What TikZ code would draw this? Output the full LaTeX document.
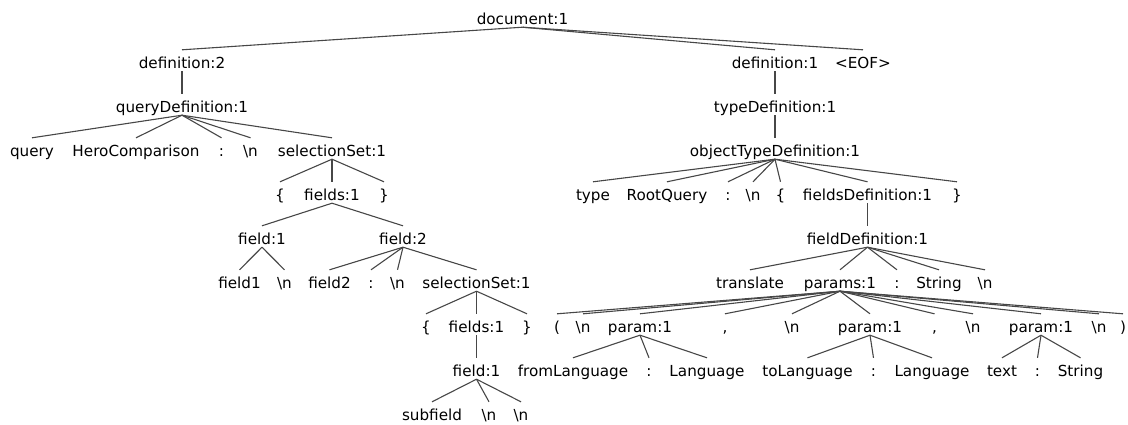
\documentclass[tikz,border=0pt]{standalone}
\usepackage{fontspec}
\setmainfont{DejaVu Sans}
\newcommand\bs{\textbackslash n}
\begin{document}
\begin{tikzpicture}[x=1bp,y=-1bp,
  tn/.style={anchor=base, inner sep=0pt, text height=18bp, text depth=3bp,
             font=\fontsize{15.2bp}{18bp}\selectfont},
  edge/.style={draw=black!72, line width=1.1bp}]
\useasboundingbox (0,0) rectangle (1128,424);
% level 0
\node[tn] (doc) at (522.5,24) {document:1};
% level 1
\node[tn] (def2) at (182,68) {definition:2};
\node[tn] (def1) at (775,68) {definition:1};
\node[tn] (eof)  at (863,68) {<EOF>};
% level 2
\node[tn] (qdef) at (182,112) {queryDefinition:1};
\node[tn] (tdef) at (775,112) {typeDefinition:1};
% level 3
\node[tn] (query)  at (32,156) {query};
\node[tn] (hero)   at (136,156) {HeroComparison};
\node[tn] (qcolon) at (221.5,156) {:};
\node[tn] (qnl)    at (250.5,156) {\bs};
\node[tn] (sel)    at (332,156) {selectionSet:1};
\node[tn] (otd)    at (775,156) {objectTypeDefinition:1};
% level 4
\node[tn] (slb)    at (280,200) {\{};
\node[tn] (flds)   at (332,200) {fields:1};
\node[tn] (srb)    at (384,200) {\}};
\node[tn] (type)   at (593,200) {type};
\node[tn] (rq)     at (667,200) {RootQuery};
\node[tn] (ocolon) at (728,200) {:};
\node[tn] (onl)    at (753,200) {\bs};
\node[tn] (olb)    at (780.5,200) {\{};
\node[tn] (fdefs)  at (867.5,200) {fieldsDefinition:1};
\node[tn] (orb)    at (957,200) {\}};
% level 5
\node[tn] (fa)   at (262,244) {field:1};
\node[tn] (fb)   at (403,244) {field:2};
\node[tn] (fdef) at (867.5,244) {fieldDefinition:1};
% level 6
\node[tn] (fa1)     at (239.5,288) {field1};
\node[tn] (fanl)    at (284.5,288) {\bs};
\node[tn] (fb2)     at (329.5,288) {field2};
\node[tn] (fbcolon) at (371,288) {:};
\node[tn] (fbnl)    at (397.5,288) {\bs};
\node[tn] (selb)    at (476.5,288) {selectionSet:1};
\node[tn] (transl)  at (750,288) {translate};
\node[tn] (params)  at (840,288) {params:1};
\node[tn] (pcolon)  at (897,288) {:};
\node[tn] (pstr)    at (939,288) {String};
\node[tn] (pnl)     at (985,288) {\bs};
% level 7
\node[tn] (slb2)  at (426,332) {\{};
\node[tn] (flds2) at (476.5,332) {fields:1};
\node[tn] (srb2)  at (527,332) {\}};
\node[tn] (lp)    at (557,332) {(};
\node[tn] (nl1)   at (583,332) {\bs};
\node[tn] (pa)    at (640,332) {param:1};
\node[tn] (cm1)   at (725,332) {,};
\node[tn] (nl2)   at (792,332) {\bs};
\node[tn] (pb)    at (870,332) {param:1};
\node[tn] (cm2)   at (934.5,332) {,};
\node[tn] (nl3)   at (973,332) {\bs};
\node[tn] (pc)    at (1041,332) {param:1};
\node[tn] (nl4)   at (1099,332) {\bs};
\node[tn] (rp)    at (1123,332) {)};
% level 8
\node[tn] (fc)      at (476.5,376) {field:1};
\node[tn] (froml)   at (573,376) {fromLanguage};
\node[tn] (pacolon) at (649,376) {:};
\node[tn] (lang1)   at (707,376) {Language};
\node[tn] (tol)     at (807.5,376) {toLanguage};
\node[tn] (pbcolon) at (873.5,376) {:};
\node[tn] (lang2)   at (932,376) {Language};
\node[tn] (txt)     at (1002,376) {text};
\node[tn] (pccolon) at (1037.5,376) {:};
\node[tn] (str2)    at (1080.5,376) {String};
% level 9
\node[tn] (subf) at (432,420) {subfield};
\node[tn] (nlx)  at (489,420) {\bs};
\node[tn] (nly)  at (521,420) {\bs};
% edges
\foreach \p/\c in {doc/def2, doc/def1, doc/eof,
  def2/qdef, qdef/query, qdef/hero, qdef/qcolon, qdef/qnl, qdef/sel,
  sel/slb, sel/flds, sel/srb, flds/fa, flds/fb,
  fa/fa1, fa/fanl, fb/fb2, fb/fbcolon, fb/fbnl, fb/selb,
  selb/slb2, selb/flds2, selb/srb2, flds2/fc,
  fc/subf, fc/nlx, fc/nly,
  def1/tdef, tdef/otd,
  otd/type, otd/rq, otd/ocolon, otd/onl, otd/olb, otd/fdefs, otd/orb,
  fdefs/fdef,
  fdef/transl, fdef/params, fdef/pcolon, fdef/pstr, fdef/pnl,
  params/lp, params/nl1, params/pa, params/cm1, params/nl2, params/pb,
  params/cm2, params/nl3, params/pc, params/nl4, params/rp,
  pa/froml, pa/pacolon, pa/lang1,
  pb/tol, pb/pbcolon, pb/lang2,
  pc/txt, pc/pccolon, pc/str2}
  \draw[edge] (\p.south) -- (\c.north);
\end{tikzpicture}
\end{document}
